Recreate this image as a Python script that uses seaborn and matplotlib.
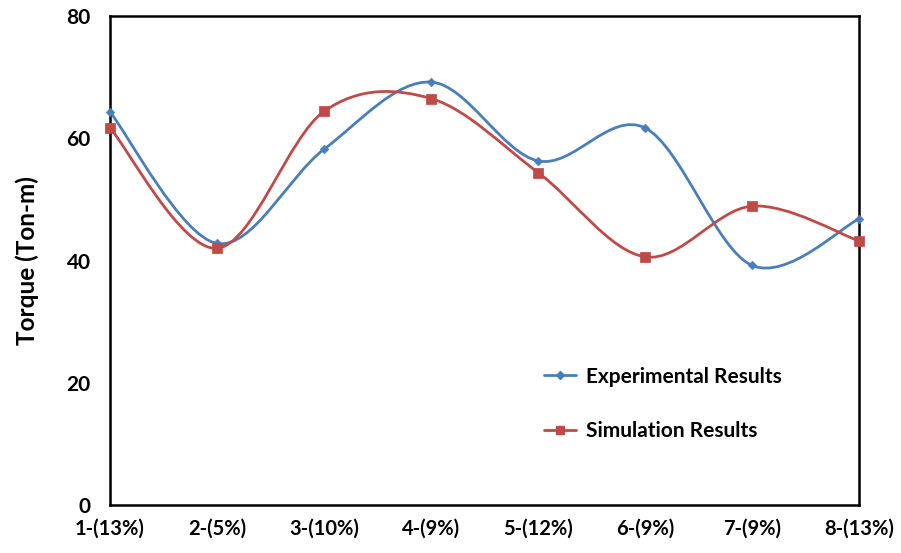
import numpy as np
import pandas as pd
import seaborn as sns
import matplotlib
matplotlib.use("Agg")
import matplotlib.pyplot as plt
from matplotlib.path import Path
from matplotlib.patches import PathPatch
from matplotlib.lines import Line2D

categories = ["1-(13%)", "2-(5%)", "3-(10%)", "4-(9%)", "5-(12%)", "6-(9%)", "7-(9%)", "8-(13%)"]
experimental = [64.3, 42.8, 58.2, 69.2, 56.3, 61.7, 39.2, 46.8]
simulation = [61.7, 42.0, 64.4, 66.5, 54.4, 40.6, 48.9, 43.2]

sns.set_style("white")
plt.rcParams["font.family"] = ["Lato", "DejaVu Sans"]
plt.rcParams["text.color"] = "black"

blue = "#4a7ebb"
red = "#be4b48"


def smooth_path(xs, ys):
    # Excel-like smoothed line: cubic Bezier segments with Catmull-Rom control points
    pts = np.column_stack([xs, ys]).astype(float)
    n = len(pts)
    verts = [pts[0]]
    codes = [Path.MOVETO]
    for i in range(n - 1):
        p0 = pts[i - 1] if i > 0 else pts[i]
        p1 = pts[i]
        p2 = pts[i + 1]
        p3 = pts[i + 2] if i + 2 < n else pts[i + 1]
        c1 = p1 + (p2 - p0) / 6.0
        c2 = p2 - (p3 - p1) / 6.0
        verts += [c1, c2, p2]
        codes += [Path.CURVE4] * 3
    return Path(verts, codes)


df = pd.DataFrame({"pos": np.arange(len(categories)),
                   "Experimental Results": experimental,
                   "Simulation Results": simulation})

fig = plt.figure(figsize=(9.01, 5.53), dpi=100)
ax = fig.add_axes([0.1221, 0.0868, 0.8313, 0.8842])

for col, color in [("Experimental Results", blue), ("Simulation Results", red)]:
    ax.add_patch(PathPatch(smooth_path(df["pos"], df[col]), facecolor="none",
                           edgecolor=color, lw=2.0, zorder=2))

sns.scatterplot(data=df, x="pos", y="Experimental Results", marker="D", s=20,
                color=blue, edgecolor=blue, ax=ax, zorder=3, clip_on=False)
sns.scatterplot(data=df, x="pos", y="Simulation Results", marker="s", s=42,
                color=red, edgecolor=red, ax=ax, zorder=3, clip_on=False)

ax.set_xlim(0, len(categories) - 1)
ax.set_ylim(0, 80)
ax.set_xticks(df["pos"])
ax.set_xticklabels(categories)
ax.set_yticks([0, 20, 40, 60, 80])
ax.set_xlabel("")
ax.set_ylabel("Torque (Ton-m)", fontsize=17.5, fontweight="bold", color="black", labelpad=20)

for lab in ax.get_xticklabels():
    lab.set_fontsize(14.5)
    lab.set_fontweight("bold")
    lab.set_color("black")
for lab in ax.get_yticklabels():
    lab.set_fontsize(15)
    lab.set_fontweight("bold")
    lab.set_color("black")
ax.tick_params(axis="both", direction="out", length=5, width=1.2, color="#555555")
ax.tick_params(axis="x", pad=5)
ax.tick_params(axis="y", pad=9)

for sp in ax.spines.values():
    sp.set_color("black")
    sp.set_linewidth(1.8)

handles = [Line2D([0], [0], color=blue, lw=2, marker="D", markersize=4),
           Line2D([0], [0], color=red, lw=2, marker="s", markersize=6)]
ax.legend(handles, ["Experimental Results", "Simulation Results"], loc="center left",
          bbox_to_anchor=(0.555, 0.207), frameon=False, handlelength=1.5,
          handletextpad=0.5, labelspacing=1.65, prop={"size": 15, "weight": "bold"})

fig.savefig("out.png", dpi=100)
